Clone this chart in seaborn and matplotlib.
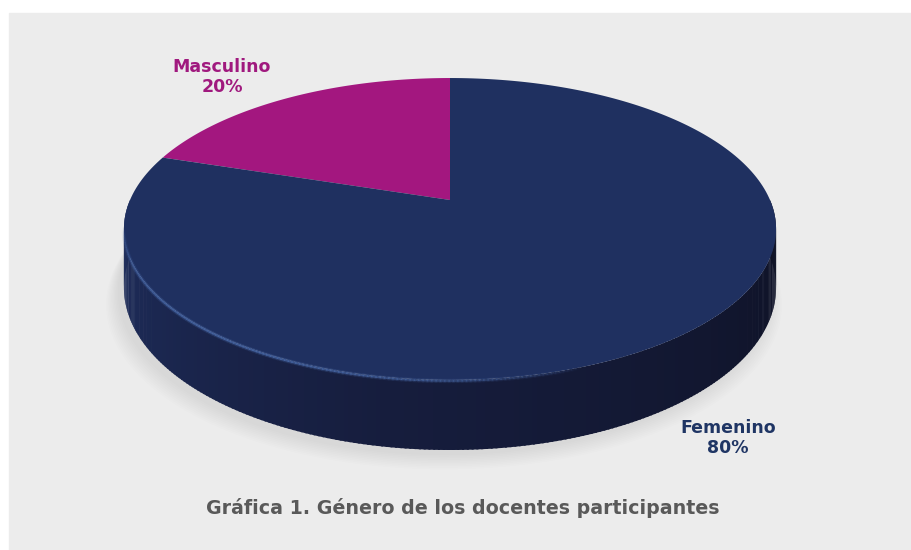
import numpy as np
import seaborn as sns
import matplotlib.pyplot as plt
from matplotlib.patches import Polygon, Rectangle
from matplotlib.collections import LineCollection
from matplotlib.colors import to_rgb

# data
labels = ["Masculino", "Femenino"]
values = [20, 80]
top_colors = ["#a3177f", "#1f3060"]
label_colors = ["#a0197e", "#1f3564"]
title = "Gráfica 1. Género de los docentes participantes"

sns.set_theme(style="white")
plt.rcParams["font.family"] = ["DejaVu Sans"]

fig = plt.figure(figsize=(9.11, 5.5), dpi=100)
ax = fig.add_axes([0, 0, 1, 1])
ax.set_xlim(0, 911)
ax.set_ylim(550, 0)
ax.axis("off")

# panel
ax.add_patch(Rectangle((9, 13), 911, 550, color="#ececec", zorder=0))

# pie geometry (layout): perspective view of a disc
cx, cy = 450, 200
sx, sy = 320, 145.4
k = 0.192
d0 = 56.6


def proj(t, drop=0.0):
    X, Y = np.cos(np.radians(t)), np.sin(np.radians(t))
    w = 1 + k * Y
    return cx + sx * X / w, cy - sy * Y / w + drop / w


# soft shadow under the disc
tt = np.linspace(0, 360, 240)
for n in range(10):
    pts = [proj(t, d0 + 4 + n * 0.8) for t in tt]
    pts = [(x - 6 + (x - cx) * n * 0.004, y + n * 0.6) for x, y in pts]
    ax.add_patch(Polygon(pts, closed=True, color="#8a8a8a", alpha=0.02, lw=0, zorder=1))

# side wall, shaded strips across the visible front
c_left = np.array(to_rgb("#1f2f5f"))
c_mid = np.array(to_rgb("#161d3d"))
c_right = np.array(to_rgb("#0e1124"))
ts = np.linspace(180, 360, 260)
for t0, t1 in zip(ts[:-1], ts[1:]):
    f = (t0 - 180) / 180
    if f < 0.45:
        col = c_left + (c_mid - c_left) * (f / 0.45)
    else:
        col = c_mid + (c_right - c_mid) * ((f - 0.45) / 0.55)
    p0, p1 = proj(t0), proj(t1 + 0.3)
    q0, q1 = proj(t0, d0), proj(t1 + 0.3, d0)
    ax.add_patch(Polygon([p0, p1, q1, q0], closed=True, color=col, lw=0, zorder=2))

# top faces from the values
start = 90
for v, c in zip(values, top_colors):
    span = 360 * v / sum(values)
    tt = np.linspace(start, start + span, 240)
    pts = [(cx, cy)] + [proj(t) for t in tt]
    ax.add_patch(Polygon(pts, closed=True, color=c, lw=0, zorder=3))
    start += span

# subtle highlight along the front rim, fading at both ends
tt = np.linspace(190, 290, 160)
hp = np.array([proj(t) for t in tt])
hp[:, 1] += 1
segs = np.stack([hp[:-1], hp[1:]], axis=1)
fade = np.sin(np.linspace(0, np.pi, len(segs))) ** 0.7
rgb = to_rgb("#4d6fb0")
for lw, amax in [(3.2, 0.15), (1.3, 0.55)]:
    cols = [(*rgb, amax * f) for f in fade]
    ax.add_collection(LineCollection(segs, colors=cols, linewidths=lw, zorder=4,
                                     capstyle="round"))

# labels
ax.text(222, 77, f"{labels[0]}\n{values[0]}%", color=label_colors[0], fontsize=12.5,
        fontweight="bold", ha="center", va="center", linespacing=1.1, zorder=5)
ax.text(728, 438, f"{labels[1]}\n{values[1]}%", color=label_colors[1], fontsize=12.5,
        fontweight="bold", ha="center", va="center", linespacing=1.1, zorder=5)

ax.text(463, 508, title, color="#595959", fontsize=13.7, fontweight="bold",
        ha="center", va="center", zorder=5)

fig.savefig("out.png", dpi=100)
